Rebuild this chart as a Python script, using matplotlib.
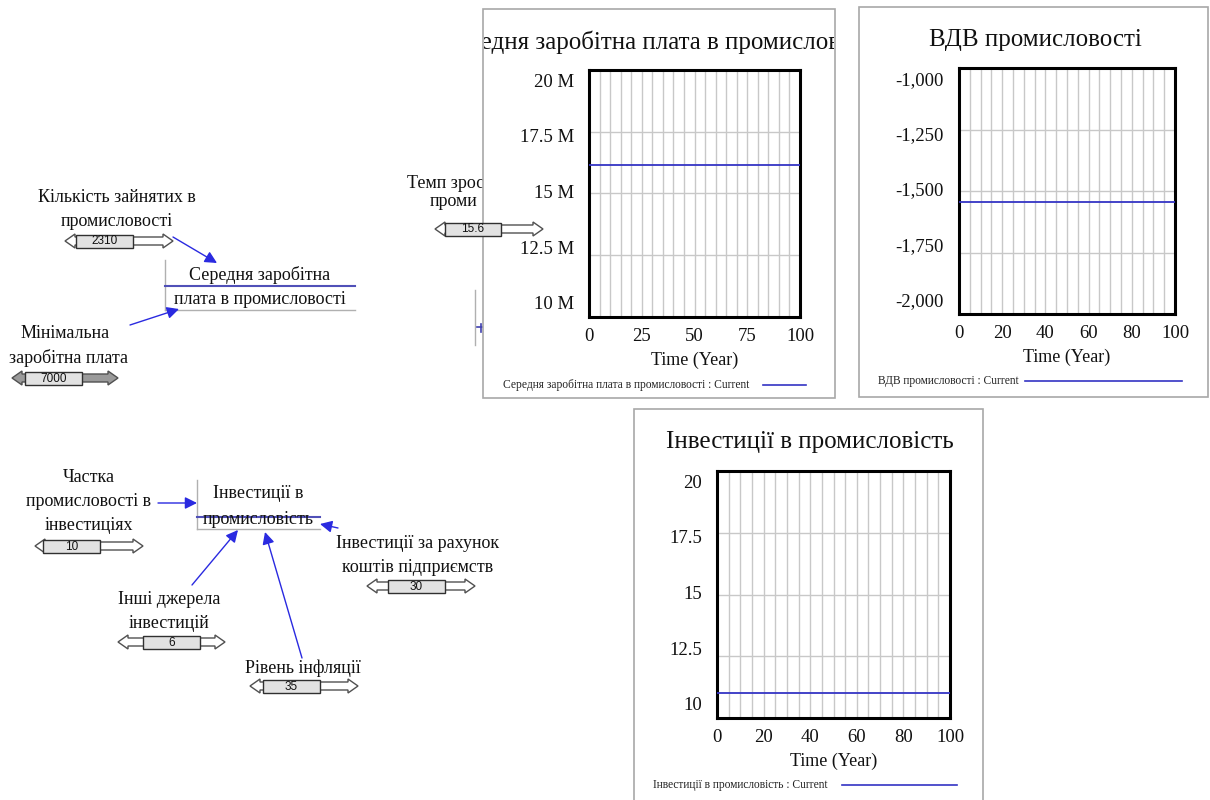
import matplotlib.pyplot as plt
from matplotlib.patches import Rectangle, Polygon, FancyArrowPatch
from matplotlib.ticker import MultipleLocator, NullFormatter
from matplotlib.transforms import Bbox, TransformedBbox

plt.rcParams['font.family'] = ['Liberation Serif', 'DejaVu Serif']

# simulation output, run "Current"
time_years = [0, 100]
avg_wage = [16.17e6, 16.17e6]
gva_industry = [-1545, -1545]
invest_industry = [11.0, 11.0]

# slider constants of the model
slider_values = ['2310', '7000', '15.6', '10', '30', '6', '35']

chart_titles = ['Середня заробітна плата в промисловості', 'ВДВ промисловості', 'Інвестиції в промисловість']
legend_labels = [t + ' : Current' for t in chart_titles]

W, H = 1210, 800
fig = plt.figure(figsize=(W / 100, H / 100), dpi=100)
cv = fig.add_axes([0, 0, 1, 1])
cv.set_xlim(0, W)
cv.set_ylim(H, 0)
cv.axis('off')

BLUE = '#3434c4'
TXT = 13


def px_box(l, t, r, b):
    return TransformedBbox(Bbox.from_extents(l / 100, (H - b) / 100, r / 100, (H - t) / 100),
                           fig.dpi_scale_trans)


def label(lines, x, y, dy=24, size=TXT, ha='center', clip=None):
    for i, s in enumerate(lines):
        t = cv.text(x, y + i * dy, s, ha=ha, va='center', fontsize=size, color='#111111', zorder=5)
        if clip is not None:
            t.set_clip_on(True)
            t.set_clip_box(clip)


def slider(x0, xb0, xb1, x1, y, val, fill='white', z=4):
    hl, hh, sh = 10, 7, 4
    pts = [(x0, y), (x0 + hl, y - hh), (x0 + hl, y - sh), (x1 - hl, y - sh), (x1 - hl, y - hh),
           (x1, y), (x1 - hl, y + hh), (x1 - hl, y + sh), (x0 + hl, y + sh), (x0 + hl, y + hh)]
    cv.add_patch(Polygon(pts, closed=True, fc=fill, ec='#505050', lw=1, zorder=z))
    cv.add_patch(Rectangle((xb0, y - 6.5), xb1 - xb0, 13, fc='#e2e2e2', ec='#303030', lw=1, zorder=z + 0.1))
    cv.text((xb0 + xb1) / 2, y + 0.5, val, ha='center', va='center', fontsize=8.5,
            family='Liberation Sans', color='#111111', zorder=z + 0.2)


def arrow(p0, p1):
    cv.add_patch(FancyArrowPatch(p0, p1, arrowstyle='-|>', mutation_scale=18, lw=1,
                                 color='#2a2ae0', zorder=6, shrinkA=0, shrinkB=0))


def node(lines, x0, x1, ytop, ybot, yblue, ytext):
    cv.plot([x0, x0], [ytop, ybot], color='#b0b0b0', lw=1, zorder=3)
    cv.plot([x0, x1], [ybot, ybot], color='#b0b0b0', lw=1, zorder=3)
    cv.plot([x0, x1], [yblue, yblue], color='#5050b8', lw=1.5, zorder=3)
    for s, yy in zip(lines, ytext):
        cv.text((x0 + x1) / 2, yy, s, ha='center', va='center', fontsize=TXT, color='#111111', zorder=5)


# ---- stock & flow diagram ----
label(['Кількість зайнятих в', 'промисловості'], 117, 198)
slider(65, 76, 133, 173, 241, slider_values[0])
arrow((173, 237), (217, 263))
node(['Середня заробітна', 'плата в промисловості'], 165, 355, 260, 310, 286, [275, 300])
arrow((130, 325), (179, 309))
label(['Мінімальна'], 65, 333)
label(['заробітна плата'], 128, 358, ha='right')
slider(12, 25, 82, 118, 378, slider_values[1], fill='#9a9a9a')

# this variable sits behind the first output window
behind = px_box(0, 0, 483, H)
label(['Темп зростання'], 407, 183, ha='left', clip=behind)
label(['проми'], 430, 202, ha='left', clip=behind)
slider(435, 445, 501, 543, 229, slider_values[2], z=8)
cv.plot([475, 475], [290, 345], color='#b0b0b0', lw=1, zorder=3)
cv.plot([477, 484], [327, 327], color='#4040b0', lw=1.2, zorder=3)
cv.plot([480.5, 480.5], [324, 332], color='#4040b0', lw=1.2, zorder=3)

label(['Частка', 'промисловості в', 'інвестиціях'], 89, 478, dy=23.5)
slider(35, 43, 100, 143, 546, slider_values[3])
arrow((158, 503), (197, 503))
node(['Інвестиції в', 'промисловість'], 197, 320, 480, 529, 517, [493, 520])
arrow((338, 528), (320, 524))
label(['Інвестиції за рахунок', 'коштів підприємств'], 418, 543)
slider(367, 388, 445, 475, 586, slider_values[4])
arrow((192, 585), (238, 530))
label(['Інші джерела', 'інвестицій'], 169, 600, dy=23)
slider(118, 143, 200, 225, 642, slider_values[5])
arrow((302, 658), (265, 532))
label(['Рівень інфляції'], 303, 668)
slider(250, 263, 320, 358, 686, slider_values[6])

# ---- output windows ----
panels = [(483, 9, 835, 398), (859, 7, 1208, 397), (634, 409, 983, 812)]
axes_px = [(589, 70, 800, 317), (959, 68, 1175, 314), (717, 471, 950, 718)]
title_pos = [(440, 42, 'left'), (1035, 40, 'center'), (810, 442, 'center')]
legend_pos = [(503, 385, 763, 806), (878, 381, 1025, 1182), (653, 785, 842, 957)]
series = [avg_wage, gva_industry, invest_industry]
ylims = [(10e6, 20e6), (-2000, -1000), (10, 20)]
ysteps = [2.5e6, 250, 2.5]
xsteps = [25, 20, 20]
fmts = [lambda v: f'{v / 1e6:g} M', lambda v: f'{v:,.0f}', lambda v: f'{v:g}']

for i in range(3):
    l, t, r, b = panels[i]
    cv.add_patch(Rectangle((l, t), r - l, b - t, fc='white', ec='#a8a8a8', lw=1.2, zorder=7))
    tx, ty, tha = title_pos[i]
    tt = cv.text(tx, ty, chart_titles[i], ha=tha, va='center', fontsize=18, color='#111111',
                 zorder=7.5, clip_on=True)
    tt.set_clip_box(px_box(l + 1, t, r - 1, b))
    lx, ly, lx0, lx1 = legend_pos[i]
    cv.text(lx, ly, legend_labels[i], ha='left', va='center', fontsize=8.3, color='#222222', zorder=7.5)
    cv.plot([lx0, lx1], [ly, ly], color=BLUE, lw=1.2, zorder=7.5)

    al, at, ar, ab = axes_px[i]
    ax = fig.add_axes([al / W, 1 - ab / H, (ar - al) / W, (ab - at) / H], zorder=10)
    ax.plot(time_years, series[i], color=BLUE, lw=1.3, zorder=3)
    lo, hi = ylims[i]
    ax.set_xlim(0, 100)
    ax.set_ylim(lo, hi)
    ax.xaxis.set_major_locator(MultipleLocator(xsteps[i]))
    ax.xaxis.set_minor_locator(MultipleLocator(5))
    ax.yaxis.set_major_locator(MultipleLocator(ysteps[i]))
    ax.yaxis.set_major_formatter(NullFormatter())
    ax.grid(True, which='both', axis='x', color='#c8c8c8', lw=1)
    ax.grid(True, which='major', axis='y', color='#c8c8c8', lw=1)
    ax.set_axisbelow(True)
    ax.tick_params(which='both', length=0, labelsize=13.5, colors='#111111')
    ax.tick_params(axis='x', pad=8)
    # Vensim squeezes the value labels a little towards the middle
    n = int(round((hi - lo) / ysteps[i]))
    for k in range(n + 1):
        v = lo + k * ysteps[i]
        f = 0.5 + (k / n - 0.5) * 0.9
        ax.text(-15 / (ar - al), f, fmts[i](v), transform=ax.transAxes, ha='right', va='center',
                fontsize=13.5, color='#111111')
    for s in ax.spines.values():
        s.set_linewidth(2.2)
        s.set_color('black')
    ax.set_xlabel('Time (Year)', fontsize=13, labelpad=5, color='#111111')

fig.savefig('out.png', dpi=100, facecolor='white')
